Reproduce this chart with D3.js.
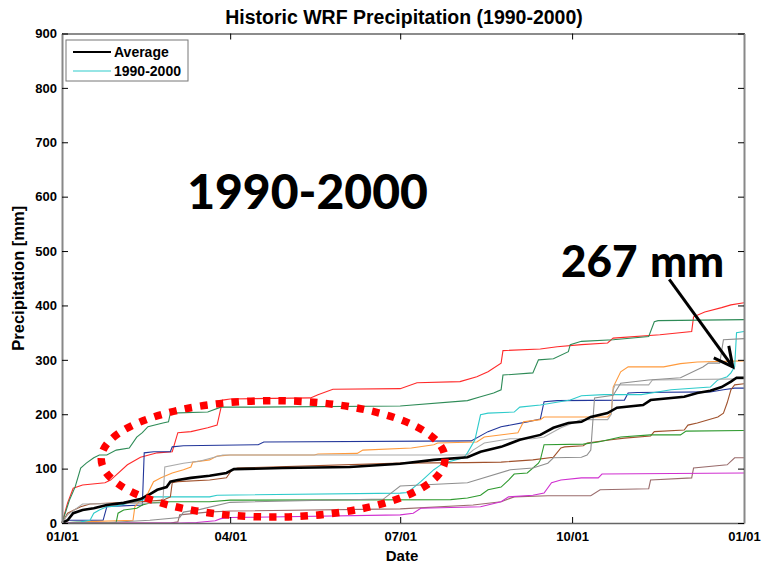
<!DOCTYPE html>
<html>
<head>
<meta charset="utf-8">
<script src="https://cdn.jsdelivr.net/npm/d3@7"></script>
<style>
  body { margin: 0; background: #fff; }
  svg text { font-family: "Liberation Sans Narrow", "Liberation Sans", Arial, sans-serif; font-weight: bold; }
  .big { font-family: Lato, "Open Sans", sans-serif; font-weight: 900; }
</style>
</head>
<body>
<div id="chart"></div>
<script>
// cumulative precipitation, [day of year, mm]
var average = [[0,0],[3,5],[6,18],[11,24],[17,27],[24,33],[33,37],[42,44],[46,51],[51,61],[56,66],[58,76],[62,79],[69,83],[79,87],[88,92],[92,99],[118,101],[154,103],[181,109],[199,116],[217,121],[224,131],[235,140],[245,153],[256,162],[263,175],[271,184],[278,186],[283,195],[292,202],[297,212],[311,217],[315,226],[333,232],[340,239],[347,243],[353,250],[358,260],[361,267],[365,267]];
var yr1 = [[0,0],[3,37],[6,64],[11,70],[23,74],[26,79],[35,107],[42,121],[51,129],[59,131],[62,166],[69,168],[78,175],[83,180],[86,226],[90,228],[133,230],[137,236],[145,246],[181,247],[190,258],[213,260],[222,269],[228,278],[235,294],[236,317],[256,320],[265,324],[278,328],[292,331],[295,340],[320,346],[337,352],[338,379],[344,388],[353,396],[358,401],[365,405]];
var yr2 = [[0,0],[4,42],[7,66],[10,101],[13,110],[17,120],[20,125],[24,125],[29,134],[36,138],[40,158],[43,166],[46,177],[54,184],[57,186],[58,202],[78,204],[85,213],[102,213],[181,215],[217,225],[224,232],[231,239],[235,245],[236,272],[252,276],[255,300],[263,302],[271,315],[272,328],[278,334],[295,337],[314,343],[317,370],[319,372],[365,374]];
var yr3 = [[0,0],[3,5],[22,5],[24,30],[29,31],[43,33],[44,129],[49,131],[58,131],[59,140],[65,142],[105,144],[108,149],[219,151],[228,168],[235,177],[249,186],[256,191],[258,223],[265,225],[301,226],[303,239],[308,240],[347,241],[354,245],[360,248],[365,248]];
var yr4 = [[0,0],[10,2],[38,5],[39,30],[42,42],[46,55],[49,76],[53,83],[59,92],[65,98],[69,103],[70,112],[79,116],[83,123],[90,125],[135,125],[137,127],[158,128],[161,134],[187,138],[199,144],[201,147],[222,149],[226,158],[244,166],[247,186],[256,190],[258,195],[292,195],[294,202],[295,250],[299,278],[303,287],[322,287],[331,293],[340,296],[365,298]];
var yr5 = [[0,0],[10,2],[15,5],[17,18],[20,24],[24,30],[29,31],[36,37],[43,42],[47,48],[79,48],[83,51],[181,55],[185,56],[192,76],[199,98],[204,110],[215,120],[217,129],[221,153],[224,199],[228,202],[242,204],[245,213],[256,217],[272,226],[278,234],[290,236],[310,236],[326,245],[347,250],[351,263],[356,269],[358,276],[360,287],[361,350],[365,352]];
var yr6 = [[0,0],[3,18],[10,30],[15,35],[29,37],[42,39],[54,42],[58,48],[59,74],[62,76],[79,79],[88,83],[91,98],[94,101],[181,110],[217,111],[235,112],[252,116],[263,121],[267,138],[269,140],[279,142],[281,147],[294,153],[301,156],[315,160],[317,168],[333,171],[335,180],[340,184],[351,195],[354,202],[356,221],[358,245],[360,254],[365,256]];
var yr7 = [[0,0],[29,1],[30,18],[33,24],[40,27],[43,33],[47,37],[58,39],[79,39],[90,42],[208,43],[217,46],[224,51],[228,61],[235,66],[239,79],[242,90],[249,92],[255,110],[256,116],[258,144],[279,145],[287,149],[299,158],[315,162],[331,162],[334,169],[365,170]];
var yr8 = [[0,0],[58,0],[62,2],[63,15],[78,20],[90,22],[181,26],[220,33],[235,39],[242,48],[260,50],[283,50],[288,61],[314,63],[315,79],[337,83],[338,101],[356,107],[360,120],[365,120]];
var yr9 = [[0,0],[63,0],[72,1],[82,4],[85,8],[90,10],[181,15],[188,18],[192,27],[224,30],[235,39],[239,48],[252,51],[258,55],[262,74],[267,79],[278,83],[287,83],[289,90],[365,92]];
var yr10 = [[0,0],[3,15],[7,25],[11,35],[54,37],[55,103],[65,110],[74,114],[86,125],[217,125],[220,134],[226,147],[240,155],[252,155],[258,158],[267,175],[278,190],[292,190],[294,200],[295,245],[296,254],[314,254],[316,263],[365,265]];
var yr11 = [[0,0],[20,0],[47,5],[63,10],[65,20],[74,25],[90,38],[172,44],[181,68],[217,74],[240,98],[252,101],[260,110],[263,120],[278,121],[281,125],[283,134],[285,230],[295,235],[299,257],[314,263],[331,267],[343,287],[346,294],[352,294],[354,337],[365,339]];

var years = [yr1, yr2, yr3, yr4, yr5, yr6, yr7, yr8, yr9, yr10, yr11];
var yearColors = ["#ff2a2a", "#2e8b57", "#22369a", "#ff9a3c", "#2ecbcb", "#a0522d", "#2f9a2f", "#9a6c6c", "#d030d0", "#aaaaaa", "#8f8f8f"];
var yTicks = [0, 100, 200, 300, 400, 500, 600, 700, 800, 900];
var xTickDays = [0, 90, 181, 273, 365];
var legendLabels = ["Average", "1990-2000"];

var width = 763, height = 563;
var margin = {top: 33.5, right: 19, bottom: 40, left: 62};
var base = new Date(1995, 0, 1);
function dayDate(d) { return d3.timeDay.offset(base, d); }

var x = d3.scaleTime()
    .domain([dayDate(0), dayDate(365)])
    .range([margin.left, width - margin.right]);
var y = d3.scaleLinear()
    .domain([0, 900])
    .range([height - margin.bottom, margin.top]);

var svg = d3.select("#chart").append("svg")
    .attr("width", width)
    .attr("height", height);

var line = d3.line()
    .x(function(d) { return x(dayDate(d[0])); })
    .y(function(d) { return y(d[1]); });

// year lines
svg.append("g").selectAll("path")
    .data(years)
    .enter().append("path")
    .attr("d", line)
    .attr("fill", "none")
    .attr("stroke", function(d, i) { return yearColors[i]; })
    .attr("stroke-width", 1.1);

svg.append("path")
    .datum(average)
    .attr("d", line)
    .attr("fill", "none")
    .attr("stroke", "#000")
    .attr("stroke-width", 2.6);

// axes (matlab style box, ticks pointing in)
var fmt = d3.timeFormat("%m/%d");
var xTicks = xTickDays.map(dayDate);
svg.append("g")
    .attr("transform", "translate(0," + y(0) + ")")
    .call(d3.axisBottom(x).tickValues(xTicks).tickFormat(fmt).tickSizeInner(-6).tickSizeOuter(0).tickPadding(9))
    .call(function(g) { g.select(".domain").attr("stroke", "#666").attr("stroke-width", 1.5); });
svg.append("g")
    .attr("transform", "translate(0," + y(900) + ")")
    .call(d3.axisTop(x).tickValues(xTicks).tickFormat("").tickSizeInner(-6).tickSizeOuter(0))
    .call(function(g) { g.select(".domain").attr("stroke", "#666").attr("stroke-width", 1.5); });
svg.append("g")
    .attr("transform", "translate(" + x(dayDate(0)) + ",0)")
    .call(d3.axisLeft(y).tickValues(yTicks).tickSizeInner(-6).tickSizeOuter(0).tickPadding(5))
    .call(function(g) { g.select(".domain").attr("stroke", "#888").attr("stroke-width", 2); });
svg.append("g")
    .attr("transform", "translate(" + x(dayDate(365)) + ",0)")
    .call(d3.axisRight(y).tickValues(yTicks).tickFormat("").tickSizeInner(-6).tickSizeOuter(0))
    .call(function(g) { g.select(".domain").attr("stroke", "#888").attr("stroke-width", 2); });
svg.selectAll(".tick text").attr("font-size", 13).attr("fill", "#000");
svg.selectAll(".tick line").attr("stroke", "#000");

// titles
svg.append("text")
    .attr("x", 404).attr("y", 24)
    .attr("text-anchor", "middle")
    .attr("font-size", 19.5)
    .text("Historic WRF Precipitation (1990-2000)");
svg.append("text")
    .attr("x", 402).attr("y", 561)
    .attr("text-anchor", "middle")
    .attr("font-size", 15)
    .text("Date");
svg.append("text")
    .attr("transform", "translate(24," + y(450) + ") rotate(-90)")
    .attr("text-anchor", "middle")
    .attr("font-size", 16.5)
    .text("Precipitation [mm]");

// legend
var lg = svg.append("g").attr("transform", "translate(66,40)");
lg.append("rect")
    .attr("width", 122).attr("height", 41)
    .attr("fill", "#fff").attr("stroke", "#777").attr("stroke-width", 1);
lg.selectAll("line.item")
    .data(legendLabels)
    .enter().append("line")
    .attr("x1", 7).attr("x2", 45)
    .attr("y1", function(d, i) { return 12 + i * 19; })
    .attr("y2", function(d, i) { return 12 + i * 19; })
    .attr("stroke", function(d, i) { return i === 0 ? "#000" : "#2ecbcb"; })
    .attr("stroke-width", function(d, i) { return i === 0 ? 2 : 1.2; });
lg.selectAll("text")
    .data(legendLabels)
    .enter().append("text")
    .attr("x", 48)
    .attr("y", function(d, i) { return 17 + i * 19; })
    .attr("font-size", 14)
    .text(function(d) { return d; });

// annotations
svg.append("ellipse")
    .attr("cx", x(dayDate(113))).attr("cy", y(118))
    .attr("rx", x(dayDate(92)) - x(dayDate(0)))
    .attr("ry", y(0) - y(107))
    .attr("fill", "none")
    .attr("stroke", "#ff0000")
    .attr("stroke-width", 7.5)
    .attr("stroke-dasharray", "7.5 8.2");

svg.append("text")
    .attr("class", "big")
    .attr("x", x(dayDate(67))).attr("y", y(578))
    .attr("font-size", 48)
    .text("1990-2000");
svg.append("text")
    .attr("class", "big")
    .attr("x", x(dayDate(267))).attr("y", y(453))
    .attr("font-size", 44)
    .attr("word-spacing", 2)
    .text("267 mm");

var tip = [x(dayDate(359)), y(287)];
var tail = [x(dayDate(325)), y(448)];
svg.append("line")
    .attr("x1", tail[0]).attr("y1", tail[1])
    .attr("x2", tip[0]).attr("y2", tip[1])
    .attr("stroke", "#000").attr("stroke-width", 3);
svg.append("path")
    .attr("d", "M" + (tip[0] - 4) + "," + (tip[1] - 21) + "L" + tip[0] + "," + tip[1] + "L" + (tip[0] - 19) + "," + (tip[1] - 9))
    .attr("fill", "none").attr("stroke", "#000").attr("stroke-width", 3);
</script>
</body>
</html>
